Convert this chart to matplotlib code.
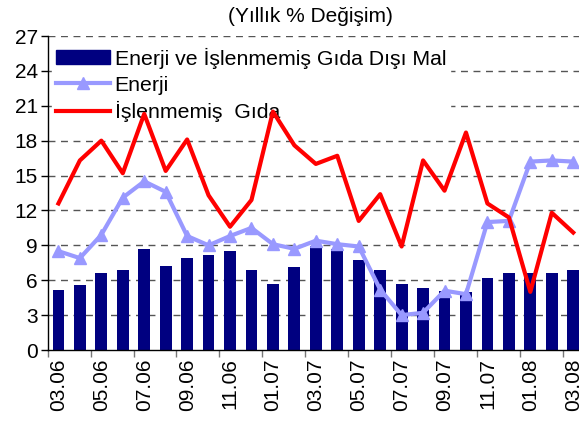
import matplotlib
matplotlib.use("Agg")
import matplotlib.pyplot as plt
import numpy as np
from matplotlib.patches import Patch
from matplotlib.lines import Line2D

plt.rcParams['font.family'] = ['Liberation Sans', 'DejaVu Sans']

months = ["03.06", "04.06", "05.06", "06.06", "07.06", "08.06", "09.06", "10.06",
          "11.06", "12.06", "01.07", "02.07", "03.07", "04.07", "05.07", "06.07",
          "07.07", "08.07", "09.07", "10.07", "11.07", "12.07", "01.08", "02.08", "03.08"]
mal = [5.2, 5.6, 6.6, 6.9, 8.7, 7.2, 7.9, 8.2, 8.5, 6.9, 5.7, 7.1, 8.9,
       8.7, 7.7, 6.9, 5.7, 5.3, 5.1, 5.0, 6.2, 6.6, 6.6, 6.6, 6.9]
enerji = [8.5, 7.9, 9.9, 13.1, 14.5, 13.6, 9.8, 9.0, 9.8, 10.5, 9.1, 8.7, 9.4,
          9.1, 8.9, 5.2, 3.0, 3.2, 5.1, 4.8, 11.0, 11.1, 16.2, 16.3, 16.2]
gida = [12.6, 16.3, 18.0, 15.2, 20.3, 15.4, 18.1, 13.3, 10.6, 12.9, 20.5, 17.6, 16.0,
        16.7, 11.1, 13.4, 8.9, 16.3, 13.7, 18.7, 12.6, 11.4, 5.0, 11.8, 10.1]
labels = ["Enerji ve İşlenmemiş Gıda Dışı Mal", "Enerji", "İşlenmemiş  Gıda"]
title = "(Yıllık % Değişim)"

fig = plt.figure(figsize=(5.79, 4.28), dpi=100)
ax = fig.add_axes([47.7/579, 1-350/428, 1-47.7/579, (350-36)/428])

x = np.arange(len(months))
ax.bar(x, mal, width=0.55, color="#000080", zorder=2)
ax.plot(x, enerji, color="#9999FF", lw=3, marker="^", ms=8, zorder=4)
ax.plot(x, gida, color="#FF0000", lw=3, zorder=5)

ax.set_ylim(0, 27)
ax.set_xlim(-0.5, -0.5 + (579-47.7)/21.45)
ax.set_yticks(np.arange(0, 28, 3))
ax.tick_params(axis='y', direction='out', length=5, width=1, labelsize=15, pad=2)
for yv in range(3, 28, 3):
    ax.axhline(yv, color="#555555", lw=1, ls=(0, (5, 4)), zorder=1)

ax.set_xticks(np.arange(-0.5, len(months), 2))
ax.set_xticklabels([])
ax.set_xticks(x[::2], minor=True)
ax.set_xticklabels(months[::2], minor=True, rotation=90, fontsize=15)
ax.tick_params(axis='x', which='major', direction='out', length=5, width=1, color="#777777")
ax.tick_params(axis='x', which='minor', length=0, pad=6)

for s in ['top', 'right']:
    ax.spines[s].set_visible(False)
ax.spines['left'].set_linewidth(1)
ax.spines['bottom'].set_linewidth(1)

handles = [Patch(color="#000080"),
           Line2D([], [], color="#9999FF", lw=3, marker="^", ms=8),
           Line2D([], [], color="#FF0000", lw=3)]
leg = ax.legend(handles, labels, loc="upper left", bbox_to_anchor=(0.0, 0.99),
                frameon=True, fontsize=15.3, handlelength=2.55, handleheight=0.65,
                handletextpad=0.2, labelspacing=0.32, borderpad=0.2, borderaxespad=0.2)
leg.get_frame().set_edgecolor("white")
leg.get_frame().set_facecolor("white")
leg.get_frame().set_alpha(1)
leg.set_zorder(3)

fig.text(310/579, 1-16/428, title, ha="center", va="center", fontsize=15)

fig.savefig("out.png", dpi=100)
